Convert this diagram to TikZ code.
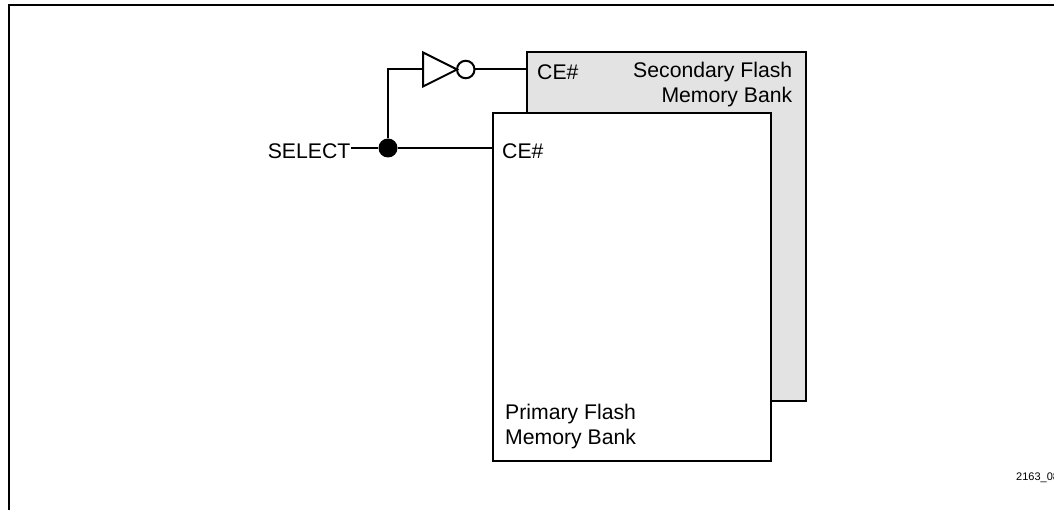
\documentclass[tikz,border=0pt]{standalone}
\usepackage{fontspec}
\setmainfont{Liberation Sans}
\usetikzlibrary{shapes.geometric,positioning}

\tikzset{
  wire/.style={line width=2pt},
  bank/.style={draw,line width=2pt,minimum width=278.5pt,inner sep=0pt,outer sep=0pt},
  lbl/.style={font=\fontsize{21.2}{25}\selectfont,inner sep=0pt,align=left},
}

\begin{document}
\begin{tikzpicture}[x=1pt,y=-1pt]

  \useasboundingbox (0,0) rectangle (1054,510);

  % page frame, cut off on the right and at the bottom
  \draw[line width=2pt] (9,510) -- (9,5) -- (1054,5);

  \node[bank,fill=black!11,minimum height=349pt] (secondary) at (666.5,226.5) {};
  \node[bank,fill=white,minimum height=348pt] (primary) at (632,287) {};

  \node[lbl,anchor=base west] (cetop) at (537,80) {CE\#};
  \node[lbl,anchor=base east] (secondarya) at (792.5,77.5) {Secondary Flash};
  \node[lbl,anchor=base east] (secondaryb) at (792.5,102.5) {Memory Bank};

  \node[lbl,anchor=base west] (cebot) at (502,158.5) {CE\#};
  \node[lbl,anchor=base west] (primarya) at (505,419) {Primary Flash};
  \node[lbl,anchor=base west] (primaryb) at (505,444) {Memory Bank};

  \node[lbl,anchor=base east] (select) at (350.5,158.5) {SELECT};
  \node[lbl,anchor=base west] (code) at (1016,480) {\fontsize{11}{13}\selectfont 2163\_08};

  % inverter on the way to the secondary bank
  \node[draw,wire,isosceles triangle,isosceles triangle stretches,anchor=apex,
    minimum width=34pt,minimum height=34pt,inner sep=0pt,outer sep=0pt] (inv) at (457,69.5) {};
  \node[draw,wire,circle,minimum size=17.5pt,inner sep=0pt,outer sep=0pt,right=0pt of inv.apex] (bubble) {};

  \node[circle,fill=black,minimum size=19pt,inner sep=0pt] (dot) at (388,148) {};

  \coordinate (stub) at (351,148);
  \coordinate (pinbot) at (primary.west |- dot);
  \coordinate (pintop) at (secondary.west |- bubble);

  \draw[wire] (stub) -- (dot) -- (pinbot);
  \draw[wire] (dot) |- (inv.west);
  \draw[wire] (bubble) -- (pintop);

\end{tikzpicture}
\end{document}
